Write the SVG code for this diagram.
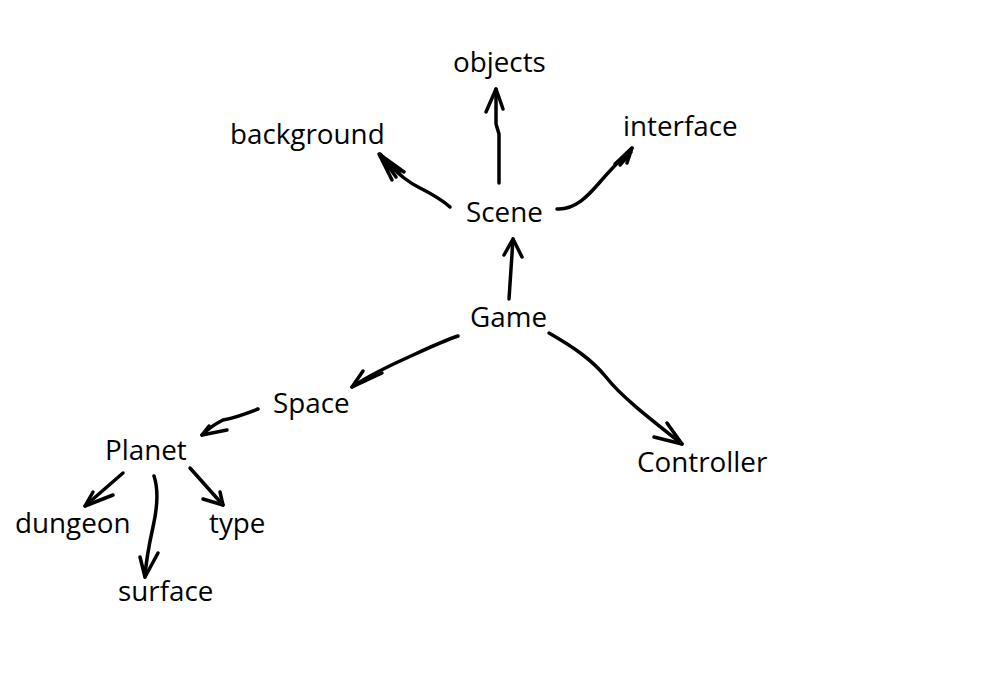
<svg xmlns="http://www.w3.org/2000/svg" width="1000" height="700" viewBox="0 0 1000 700">
<style>
text{font-family:"Open Sans","Noto Sans","Liberation Sans",sans-serif;font-size:27.8px;fill:#000}
.c{fill:none;stroke:#000;stroke-width:3.5;stroke-linecap:round;stroke-linejoin:round}
</style>
<rect width="1000" height="700" fill="#fff"/>
<g id="connectors">
<g id="scene-objects"><path class="c" d="M499,183 L499,134 L496,124 L496,89"/><path class="c" d="M486,112 L496,89 L503,109"/></g>
<g id="scene-background"><path class="c" d="M450,207 C440,198 430,193 420,188 C410,183 400,177 380,154"/><path class="c" d="M392,180 L379,154 L404,172 M396,177 L384,160 L401,171"/></g>
<g id="scene-interface"><path class="c" d="M557,209 C575,210 588,196 600,182 C612,168 622,158 632,148"/><path class="c" d="M615,164 L632,148 L627,163 M620,165 L631,152"/></g>
<g id="game-scene"><path class="c" d="M509,299 L513,239"/><path class="c" d="M504,255 L513,239 L522,257"/></g>
<g id="game-space"><path class="c" d="M458,336 C440,342 420,352 400,361 C385,368 365,378 352,387"/><path class="c" d="M363,371 L352,387 L382,373"/></g>
<g id="game-controller"><path class="c" d="M549,333 C575,348 592,360 606,377 C620,395 645,415 682,444"/><path class="c" d="M654,437 L682,444 L667,423"/></g>
<g id="space-planet"><path class="c" d="M258,409 C245,414 235,418 223,420 C215,424 208,429 202,435"/><path class="c" d="M209,426 L202,435 L227,430"/></g>
<g id="planet-dungeon"><path class="c" d="M123,473 L85,506"/><path class="c" d="M93,492 L85,506 L113,495"/></g>
<g id="planet-surface"><path class="c" d="M154,476 C158,488 158,505 153,527 C149,545 146,560 145,577"/><path class="c" d="M140,557 L145,577 L158,553"/></g>
<g id="planet-type"><path class="c" d="M190,468 L223,505"/><path class="c" d="M203,499 L223,505 L220,492"/></g>
</g>
<g id="objects"><text x="453" y="72">objects</text></g>
<g id="background"><text x="230" y="144">background</text></g>
<g id="interface"><text x="623" y="136">interface</text></g>
<g id="scene"><text x="466" y="222">Scene</text></g>
<g id="game"><text x="470" y="327">Game</text></g>
<g id="space"><text x="273" y="413">Space</text></g>
<g id="controller"><text x="637" y="472">Controller</text></g>
<g id="planet"><text x="105" y="460">Planet</text></g>
<g id="dungeon"><text x="15" y="533">dungeon</text></g>
<g id="type"><text x="209" y="533">type</text></g>
<g id="surface"><text x="118" y="601">surface</text></g>
</svg>
